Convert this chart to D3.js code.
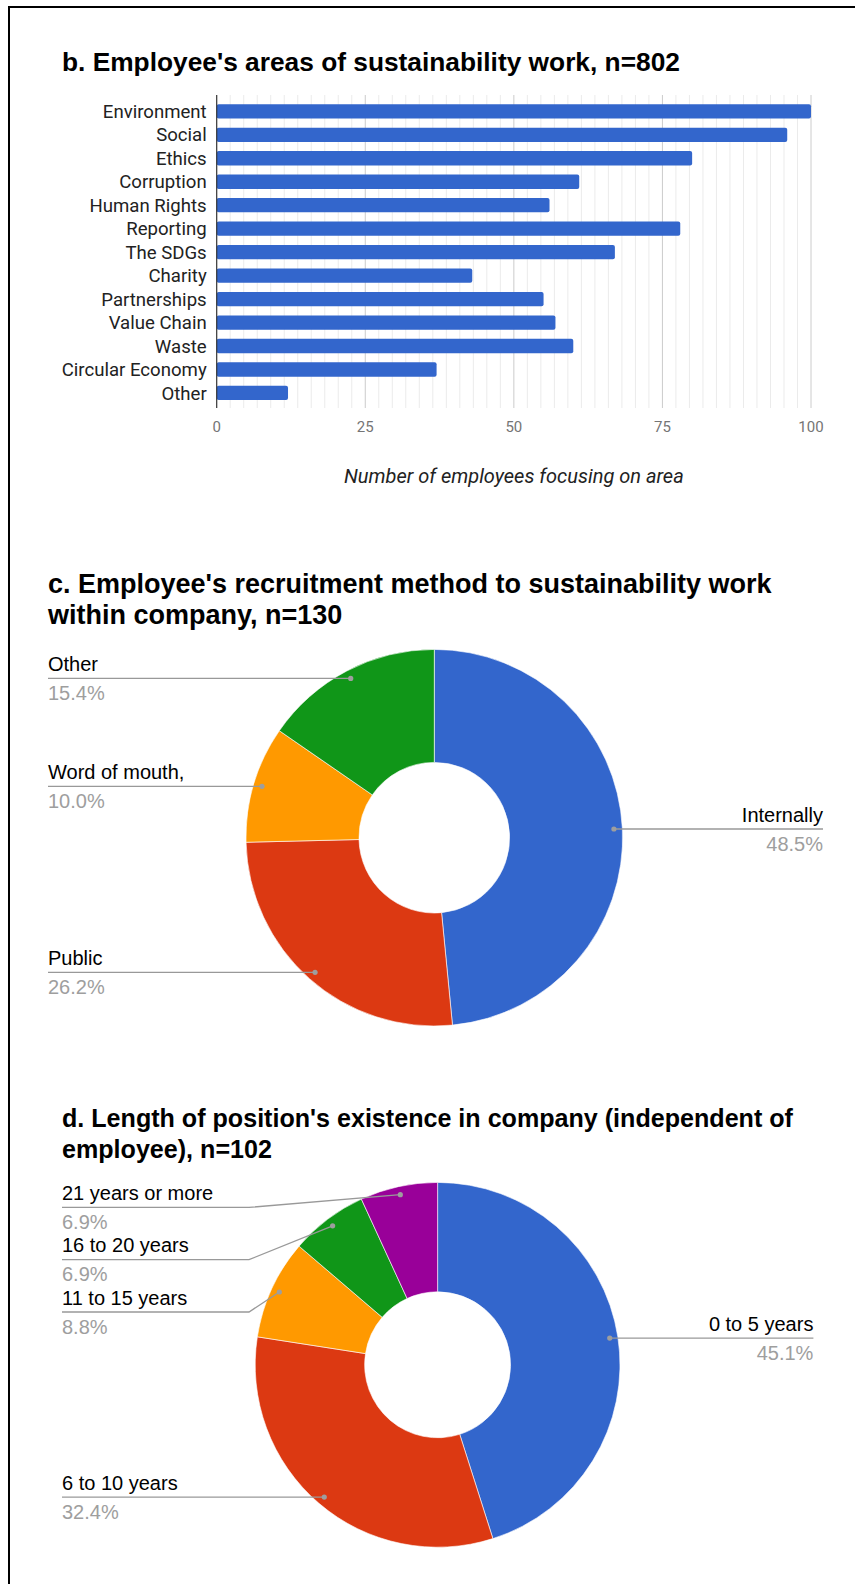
<!DOCTYPE html>
<html>
<head>
<meta charset="utf-8">
<script src="https://cdn.jsdelivr.net/npm/d3@7"></script>
<style>
  html, body { margin: 0; padding: 0; background: #fff; }
  svg { display: block; }
</style>
</head>
<body>
<svg id="page" width="855" height="1584"></svg>
<script>
// ---- b. areas of sustainability work ----
const areaCategories = ["Environment", "Social", "Ethics", "Corruption", "Human Rights", "Reporting",
  "The SDGs", "Charity", "Partnerships", "Value Chain", "Waste", "Circular Economy", "Other"];
const areaCounts = [100, 96, 80, 61, 56, 78, 67, 43, 55, 57, 60, 37, 12];
const areaTicks = [0, 25, 50, 75, 100];

// ---- c. recruitment method ----
const recruitLabels = ["Internally", "Public", "Word of mouth,", "Other"];
const recruitCounts = [63, 34, 13, 20];

// ---- d. age of the position ----
const tenureLabels = ["0 to 5 years", "6 to 10 years", "11 to 15 years", "16 to 20 years", "21 years or more"];
const tenureCounts = [46, 33, 9, 7, 7];

const sliceColors = ["#3366cc", "#dc3912", "#ff9900", "#109618", "#990099"];

const svg = d3.select("#page");
svg.append("rect").attr("width", 855).attr("height", 1584).attr("fill", "#fff");

// frame lines along the top and left edge
svg.append("rect").attr("x", 8).attr("y", 6).attr("width", 847).attr("height", 2).attr("fill", "#000");
svg.append("rect").attr("x", 8).attr("y", 6).attr("width", 2).attr("height", 1578).attr("fill", "#000");

const TITLE_FONT = "'Liberation Sans', Arial, sans-serif";
const LABEL_FONT = "Roboto, 'Liberation Sans', Arial, sans-serif";

function title(lines, x, y0, lh, size) {
  const t = svg.append("text")
    .attr("font-family", TITLE_FONT).attr("font-weight", "bold")
    .attr("font-size", size).attr("fill", "#000");
  lines.forEach((s, i) => t.append("tspan").attr("x", x).attr("y", y0 + i * lh).text(s));
}

// ---------------- bar chart ----------------
title(["b. Employee's areas of sustainability work, n=802"], 62, 71, 31, 26.3);

const plotTop = 95, plotBottom = 408;
const x = d3.scaleLinear().domain([0, 100]).range([216.7, 811]);
const y = d3.scaleBand().domain(areaCategories).range([99.6, 404.7])
  .paddingInner(0.39).paddingOuter(0.195);

const bar = svg.append("g");

// minor gridlines: ten between each pair of major ticks
const minor = [];
for (let i = 0; i < areaTicks.length - 1; i++) {
  const a = areaTicks[i], b = areaTicks[i + 1];
  for (let k = 1; k <= 10; k++) minor.push(a + (b - a) * k / 11);
}
bar.selectAll("line.minor").data(minor).join("line")
  .attr("x1", d => x(d)).attr("x2", d => x(d))
  .attr("y1", plotTop).attr("y2", plotBottom)
  .attr("stroke", "#ebebeb").attr("stroke-width", 1);
bar.selectAll("line.major").data(areaTicks.slice(1)).join("line")
  .attr("x1", d => x(d)).attr("x2", d => x(d))
  .attr("y1", plotTop).attr("y2", plotBottom)
  .attr("stroke", "#cccccc").attr("stroke-width", 1);

bar.selectAll("rect.bar").data(areaCategories).join("rect")
  .attr("x", x(0)).attr("y", d => y(d))
  .attr("width", (d, i) => x(areaCounts[i]) - x(0))
  .attr("height", y.bandwidth())
  .attr("rx", 2).attr("fill", "#3366cc");

// baseline axis
bar.append("line").attr("x1", x(0)).attr("x2", x(0))
  .attr("y1", plotTop).attr("y2", plotBottom)
  .attr("stroke", "#333").attr("stroke-width", 1.2);

bar.selectAll("text.cat").data(areaCategories).join("text")
  .attr("x", 206.7).attr("y", d => y(d) + y.bandwidth() / 2)
  .attr("dy", "0.36em").attr("text-anchor", "end")
  .attr("font-family", LABEL_FONT).attr("font-size", 18.6).attr("fill", "#222")
  .text(d => d);

bar.selectAll("text.tick").data(areaTicks).join("text")
  .attr("x", d => x(d)).attr("y", 432.3).attr("text-anchor", "middle")
  .attr("font-family", LABEL_FONT).attr("font-size", 15).attr("fill", "#757575")
  .text(d => d);

bar.append("text").attr("x", (x(0) + x(100)) / 2).attr("y", 482.7)
  .attr("text-anchor", "middle").attr("font-family", LABEL_FONT)
  .attr("font-style", "italic").attr("font-size", 20).attr("fill", "#222")
  .text("Number of employees focusing on area");

// ---------------- donut charts ----------------
function donut(opts) {
  const { labels, counts, cx, cy, r, leftX, rightX, elbowX } = opts;
  const g = svg.append("g");
  const total = d3.sum(counts);
  const pie = d3.pie().sort(null).value(d => d)(counts);
  const arc = d3.arc().innerRadius(r * 0.4).outerRadius(r);

  g.selectAll("path.slice").data(pie).join("path")
    .attr("transform", `translate(${cx},${cy})`)
    .attr("d", arc).attr("fill", (d, i) => sliceColors[i])
    .attr("stroke", "#fff").attr("stroke-width", 0.6);

  // anchor point of each leader line, just inside the outer edge
  const items = pie.map((d, i) => {
    const a = (d.startAngle + d.endAngle) / 2;
    return {
      label: labels[i],
      pct: d3.format(".1f")(counts[i] / total * 100) + "%",
      dx: cx + Math.sin(a) * r * 0.955,
      dy: cy - Math.cos(a) * r * 0.955,
      right: Math.sin(a) > 0
    };
  });

  // stack labels on each side so that they never overlap
  const minY = cy - r + 25, gap = 52.3;
  ["left", "right"].forEach(side => {
    const list = items.filter(d => (side === "right") === d.right).sort((a, b) => a.dy - b.dy);
    let last = -Infinity;
    list.forEach(d => {
      d.ly = Math.max(d.dy, minY, last + gap);
      last = d.ly;
    });
  });

  items.forEach(d => {
    const tx = d.right ? rightX : leftX;
    const ex = d.right ? cx + r + 6 : elbowX;
    const path = d.ly === d.dy
      ? `M${tx},${d.ly}H${d.dx}`
      : `M${tx},${d.ly}H${ex}L${d.dx},${d.dy}`;
    g.append("path").attr("d", path).attr("fill", "none")
      .attr("stroke", "#999").attr("stroke-width", 1.3);
    g.append("circle").attr("cx", d.dx).attr("cy", d.dy).attr("r", 2.6).attr("fill", "#9e9e9e");
    const anchor = d.right ? "end" : "start";
    g.append("text").attr("x", tx).attr("y", d.ly - 7.3).attr("text-anchor", anchor)
      .attr("font-family", TITLE_FONT).attr("font-size", 20).attr("fill", "#000")
      .text(d.label);
    g.append("text").attr("x", tx).attr("y", d.ly + 21.7).attr("text-anchor", anchor)
      .attr("font-family", TITLE_FONT).attr("font-size", 20).attr("fill", "#9e9e9e")
      .text(d.pct);
  });
}

title(["c. Employee's recruitment method to sustainability work", "within company, n=130"], 48, 593, 31, 27);
donut({ labels: recruitLabels, counts: recruitCounts, cx: 434.3, cy: 837.7, r: 188.3,
  leftX: 48, rightX: 823, elbowX: 239 });

title(["d. Length of position's existence in company (independent of", "employee), n=102"], 62, 1127, 31, 25.1);
donut({ labels: tenureLabels, counts: tenureCounts, cx: 437.6, cy: 1364.8, r: 182.4,
  leftX: 62, rightX: 813.4, elbowX: 249 });
</script>
</body>
</html>
